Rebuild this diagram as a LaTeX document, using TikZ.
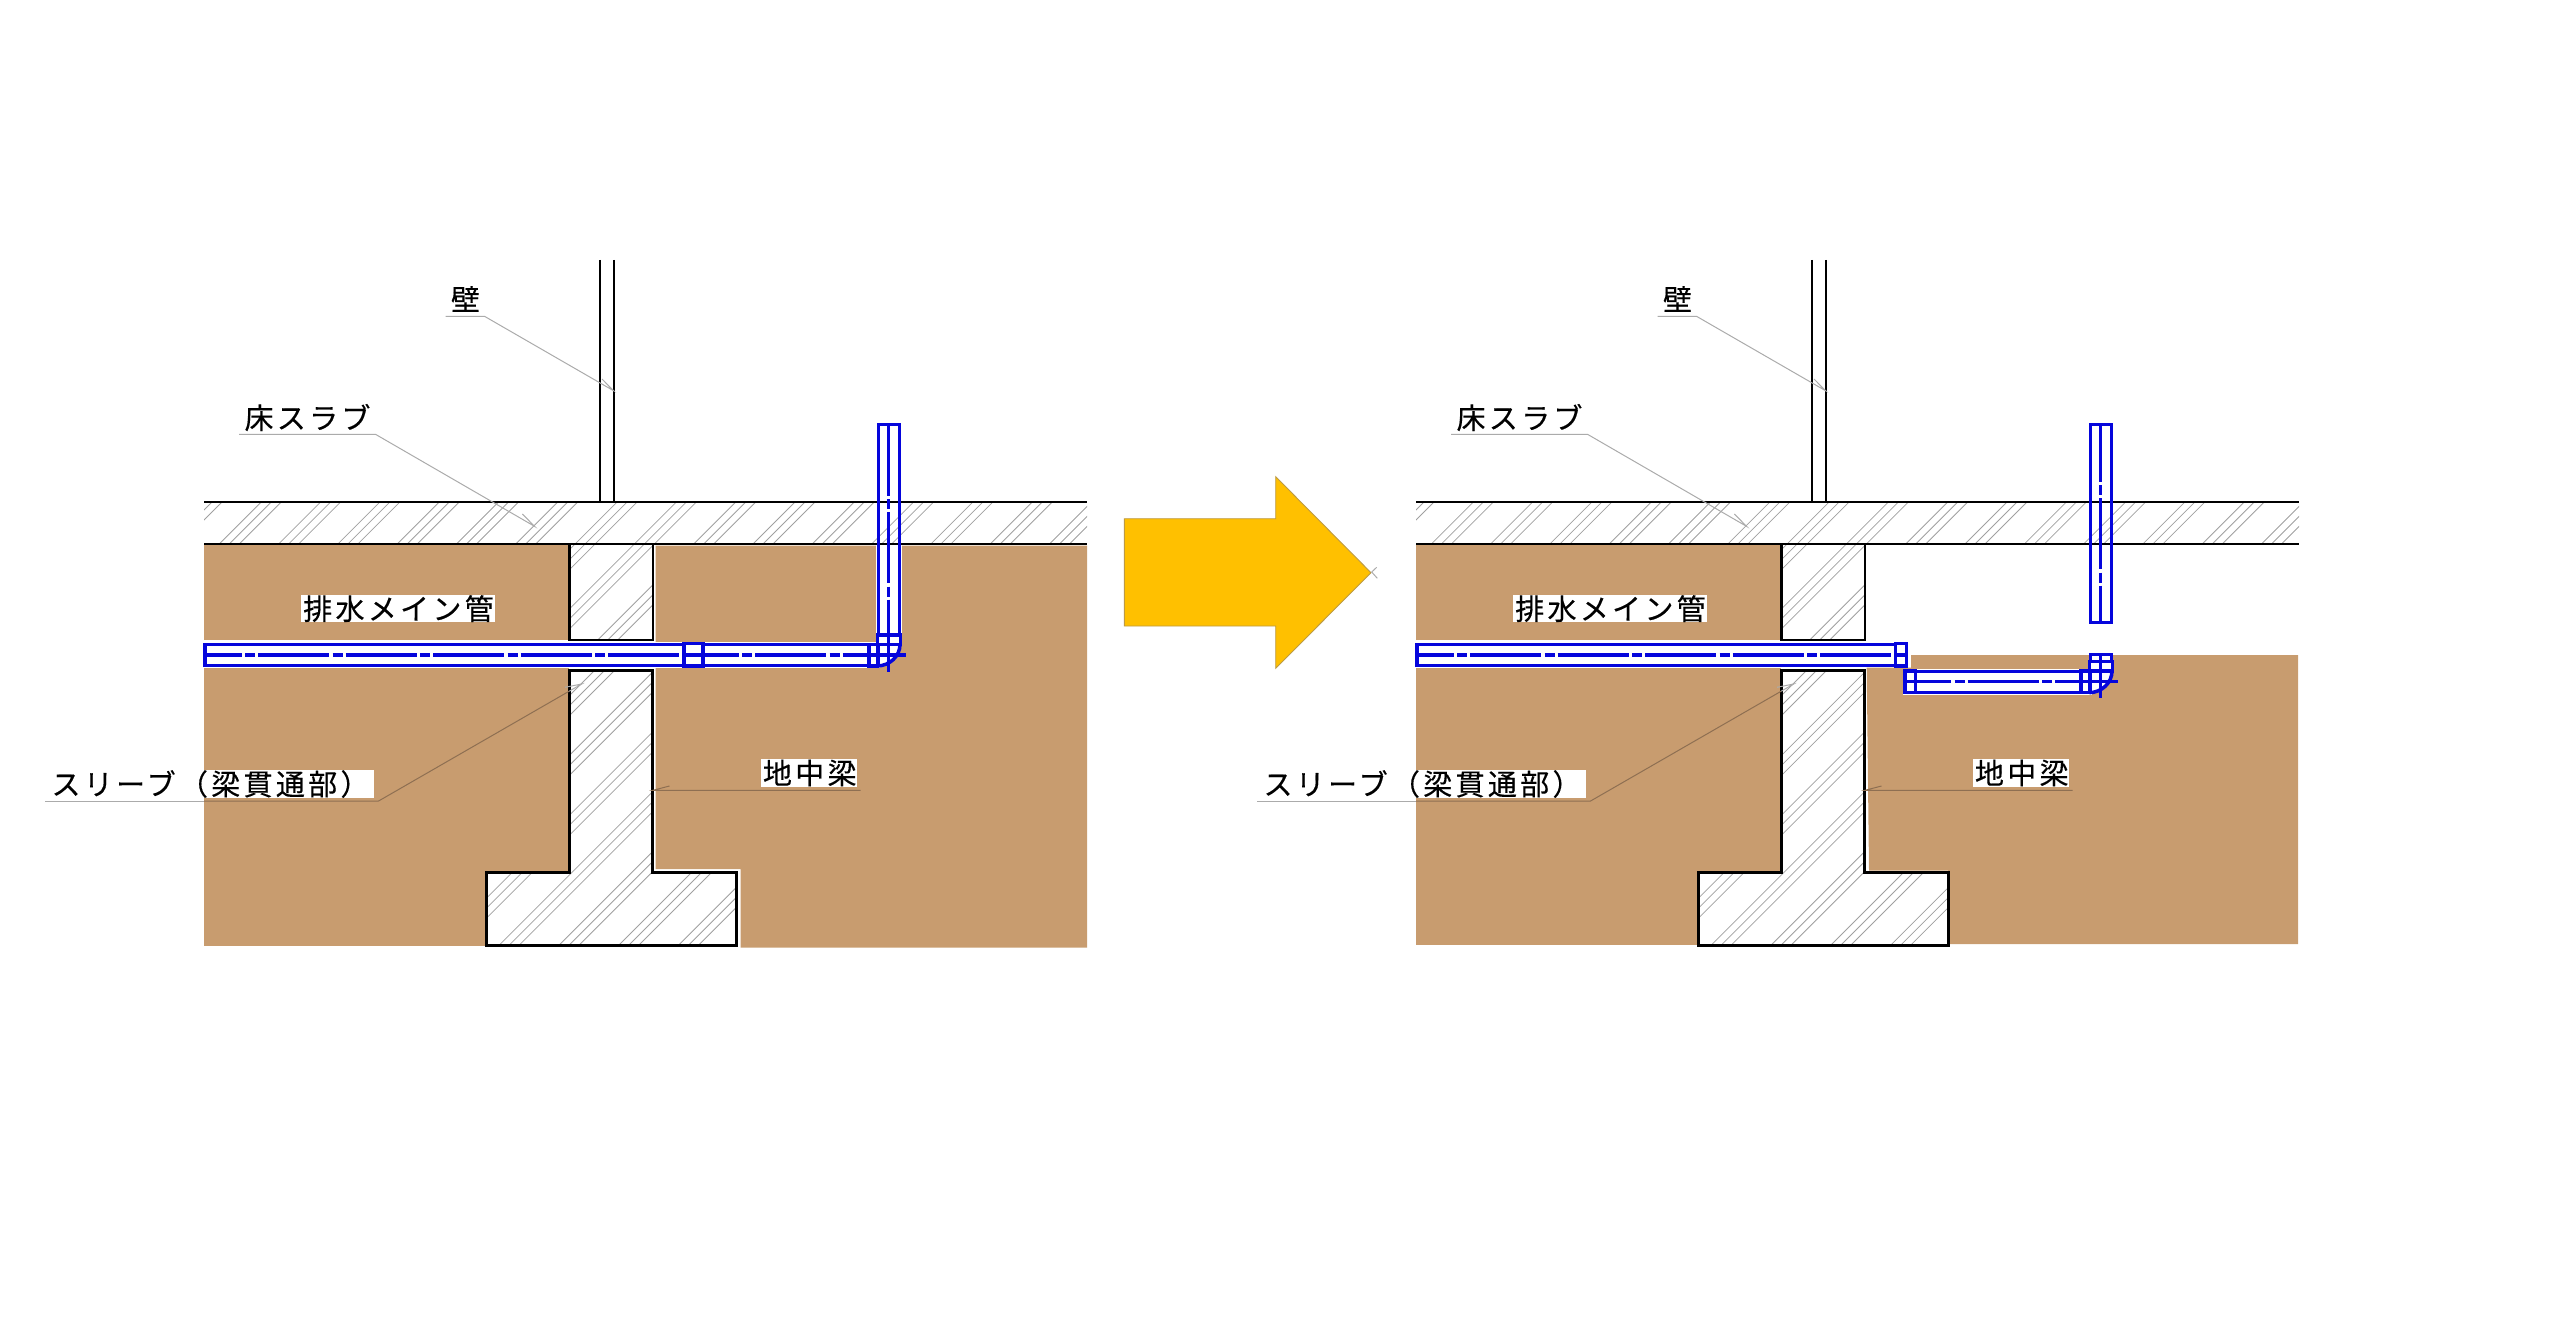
\documentclass[tikz,border=0pt]{standalone}
\usepackage{fontspec}
\newfontfamily\jpfont[LetterSpace=11.4,FakeBold=0.35]{Noto Sans CJK JP}
\definecolor{soil}{HTML}{C89C6F}
\definecolor{pipeblue}{RGB}{5,5,220}
\definecolor{hatchgray}{HTML}{A0A0A0}
\definecolor{leadergray}{HTML}{ABABAB}
\definecolor{leaderbrown}{HTML}{8E6F52}
\definecolor{arrowfill}{HTML}{FFC000}
\definecolor{arrowedge}{HTML}{BC9A45}
\tikzset{
  outline/.style={draw=black,line width=2.4pt},
  thick outline/.style={draw=black,line width=3pt,line join=miter},
  hatchline/.style={draw=hatchgray,line width=0.8pt},
  pipe/.style={draw=pipeblue,line width=3.5pt},
  cline/.style={draw=pipeblue,line width=3.5pt,dash pattern=on 71pt off 3.5pt on 10pt off 3pt},
  leader/.style={draw=leadergray,line width=1pt},
  leader on soil/.style={draw=leaderbrown,line width=1pt},
  lbl/.style={font=\jpfont\fontsize{29}{31}\selectfont,inner sep=0pt,minimum height=27.5pt,text=black},
  lblbox/.style={lbl,fill=white},
}
% u0 period kmin kmax ytop ybot
\newcommand\hatchset[6]{%
  \foreach \k in {#3,...,#4}{\foreach \d in {0,10,20}{%
    \pgfmathsetmacro\ua{#1+#2*\k-\d}%
    \pgfmathsetmacro\xt{\ua-#5}\pgfmathsetmacro\xb{\ua-#6}%
    \draw[hatchline] (\xt,#5) -- (\xb,#6);}}}
% slab, wall and beam
\newcommand\structure{%
  \fill[white] (569.3,670.7) -- (652.7,670.7) -- (652.7,872.3) -- (736.7,872.3) -- (736.7,945) -- (486,945) -- (486,872.3) -- (569.3,872.3) -- cycle;
  \begin{scope}
    \clip (204,502) rectangle (1087,543.7);
    \hatchset{1198.4}{59.3}{-9}{8}{502}{544}
  \end{scope}
  \begin{scope}
    \clip (569,543.7) rectangle (653,640);
    \hatchset{1198.4}{59.3}{-2}{2}{543}{640}
  \end{scope}
  \begin{scope}
    \clip (569.3,670.7) -- (652.7,670.7) -- (652.7,872.3) -- (736.7,872.3) -- (736.7,945) -- (486,945) -- (486,872.3) -- (569.3,872.3) -- cycle;
    \hatchset{1285}{59.8}{-1}{7}{670}{946}
  \end{scope}
  \draw[outline] (204,501.7) -- (1087,501.7);
  \draw[outline] (204,543.7) -- (1087,543.7);
  \draw[outline] (600,260) -- (600,501.7);
  \draw[outline] (613.9,260) -- (613.9,501.7);
  \draw[outline] (569.3,543.7) -- (569.3,640) -- (652.7,640) -- (652.7,543.7);
  \draw[thick outline] (569.3,670.7) -- (652.7,670.7) -- (652.7,872.3) -- (736.7,872.3) -- (736.7,945) -- (486,945) -- (486,872.3) -- (569.3,872.3) -- cycle;
}
% elbow drawn at the position of the left figure
\newcommand\elbow{%
  \fill[white] (869,644.3) -- (878.3,644.3) -- (878.3,635) -- (899.3,635) -- (899.3,644.3) .. controls (899.3,656) and (890,665.7) .. (878.3,665.7) -- (869,665.7) -- cycle;
  \draw[pipe] (869,644.3) rectangle (877.3,666);
  \draw[pipe] (877.3,635) rectangle (900.7,644.3);
  \draw[pipe] (878.3,644.3) -- (878.3,665.7);
  \draw[pipe] (900,644.3) .. controls (900,656) and (890,665.7) .. (877.3,666);
  \draw[pipe] (888.7,635) -- (888.7,671.7);
  \draw[pipe] (869,655) -- (905.7,655);
}
% labels and leaders
\newcommand\labels{%
  \node[lbl] (wallLabel) at (465.5,299) {壁};
  \coordinate (wallStart) at (445.7,316.3);
  \coordinate (wallKnee) at (484.5,316.3);
  \coordinate (wallTip) at (613.5,390.7);
  \coordinate (wallBarb) at (602,379);
  \draw[leader] (wallStart) -- (wallKnee) -- (wallTip) -- (wallBarb);
  \node[lbl] (slabLabel) at (307.5,417.5) {床スラブ};
  \coordinate (slabStart) at (239,434.3);
  \coordinate (slabKnee) at (375.5,434.3);
  \coordinate (slabTip) at (534.5,526.3);
  \coordinate (slabBarb) at (522.4,514);
  \draw[leader] (slabStart) -- (slabKnee) -- (slabTip) -- (slabBarb);
  \node[lblbox,minimum width=193.9pt] (mainLabel) at (397.7,608.6) {\hspace*{1.5pt}排水メイン管};
  \node[lblbox,minimum width=326pt] (sleeveLabel) at (210.5,784) {スリーブ（梁貫通部）};
  \coordinate (sleeveStart) at (45,801);
  \coordinate (sleeveSoil) at (204,801);
  \coordinate (sleeveKnee) at (378.6,801);
  \coordinate (sleeveEdge) at (569,691.3);
  \coordinate (sleeveTip) at (581.7,684);
  \coordinate (sleeveBarb) at (565,687.3);
  \draw[leader] (sleeveStart) -- (sleeveSoil);
  \draw[leader on soil] (sleeveSoil) -- (sleeveKnee) -- (sleeveEdge);
  \draw[leader] (sleeveEdge) -- (sleeveTip) -- (sleeveBarb);
  \node[lblbox,minimum width=96.6pt] (beamLabel) at (809,773) {\hspace*{1.5pt}地中梁};
  \coordinate (beamStart) at (860.7,790.3);
  \coordinate (beamTip) at (653,790.3);
  \coordinate (beamBarb) at (669.5,786);
  \draw[leader on soil] (beamStart) -- (beamTip) -- (beamBarb);
}
\begin{document}
\begin{tikzpicture}[x=1pt,y=-1pt]
\useasboundingbox (0,0) rectangle (2560,1329);
% ---------- left figure ----------
\begin{scope}[name prefix=L-]
  \fill[soil] (204,545) rectangle (569,640);
  \fill[soil] (204,667.7) rectangle (569,945.7);
  \fill[soil] (655.5,545.7) -- (1087,545.7) -- (1087,947.7) -- (740.7,947.7) -- (740.7,869) -- (655.5,869) -- cycle;
  \fill[white] (655,642) rectangle (878,667.7);
  \fill[white] (875.8,545) rectangle (901.8,636);
  \fill[white] (867,642) rectangle (880,667.7);
  \structure
  \draw[pipe] (205,644.6) rectangle (684,665.7);
  \draw[pipe] (703,644.6) -- (869,644.6);
  \draw[pipe] (703,665.7) -- (869,665.7);
  \draw[pipe] (684,643.5) rectangle (703,666);
  \draw[cline,dash phase=35.4pt] (206,655) -- (684,655);
  \draw[cline,dash phase=35.4pt] (703,655) -- (869,655);
  \draw[pipe] (684,655) -- (703,655);
  \draw[pipe] (878.3,424.7) rectangle (899.3,635);
  \draw[cline] (888.7,424.7) -- (888.7,635);
  \elbow
  \labels
\end{scope}
% ---------- arrow ----------
\draw[draw=arrowedge,fill=arrowfill,line width=0.9pt] (1124.3,518.7) -- (1275.7,518.7) -- (1275.7,476.7) -- (1371,572.7) -- (1275.7,668.3) -- (1275.7,626) -- (1124.3,626) -- cycle;
\draw[leader] (1376.7,567.3) -- (1371.7,572) -- (1377.3,578.3);
% ---------- right figure ----------
\begin{scope}[name prefix=R-,xshift=1212pt]
  \fill[soil] (204,545) rectangle (569,640);
  \fill[soil] (204,667.7) rectangle (569,945);
  \fill[soil] (654.7,667.7) -- (699,667.7) -- (699,655) -- (1086,655) -- (1086,944) -- (736,944) -- (736,870.5) -- (657,870.5) -- cycle;
  \fill[white] (691,669) rectangle (880,695);
  \structure
  \draw[pipe] (205,644.6) rectangle (683.7,665.7);
  \draw[pipe] (683.7,643.5) rectangle (694.7,666);
  \draw[cline,dash phase=35.4pt] (206,655) -- (683.7,655);
  \draw[pipe] (683.7,655) -- (694.7,655);
  \draw[pipe] (878.3,424.7) rectangle (899.3,622.3);
  \draw[cline,dash phase=14pt] (888.7,424.7) -- (888.7,622.3);
  % lower, lowered pipe
  \draw[pipe] (703.5,671.3) -- (869,671.3);
  \draw[pipe] (703.5,692.4) -- (869,692.4);
  \draw[pipe] (693,671) rectangle (703.5,692.7);
  \draw[pipe] (693,681.7) -- (703.5,681.7);
  \draw[cline,dash phase=35.4pt] (703.5,681.7) -- (869,681.7);
  % stub above the elbow
  \fill[white] (878.3,654.3) rectangle (899.3,662);
  \draw[pipe] (878.3,661.7) -- (878.3,654.3) -- (899.3,654.3) -- (899.3,661.7);
  \draw[pipe] (888.7,654.3) -- (888.7,661.7);
  \begin{scope}[yshift=-26.7pt]
    \elbow
  \end{scope}
  \labels
\end{scope}
\end{tikzpicture}
\end{document}
